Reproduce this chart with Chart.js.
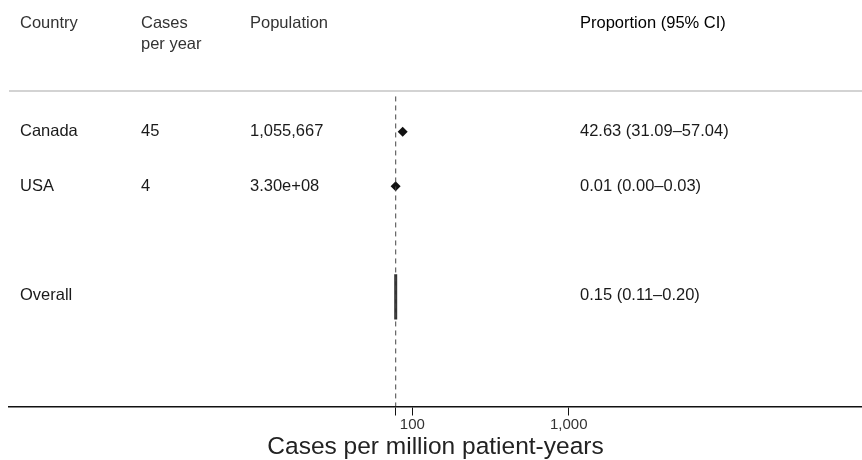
<!DOCTYPE html>
<html lang="en">
<head>
    <meta charset="UTF-8">
    <title>Forest plot</title>
    <script src="https://cdn.jsdelivr.net/npm/chart.js"></script>
    <style>
        html, body { margin: 0; padding: 0; background: #fff; overflow: hidden; }
        #wrap { width: 862px; height: 460px; }
        canvas { display: block; }
    </style>
</head>
<body>
    <div id="wrap"><canvas id="forest" width="862" height="460"></canvas></div>

    <script>
        // table columns
        const countries = ['Canada', 'USA'];
        const casesPerYear = ['45', '4'];
        const population = ['1,055,667', '3.30e+08'];
        const proportionText = ['42.63 (31.09–57.04)', '0.01 (0.00–0.03)'];
        const overallText = '0.15 (0.11–0.20)';

        // plotted values (x = cases per million patient-years, log axis)
        const studyRows = [1, 2];
        const studyEstimates = [86.8, 78.2];
        const overallRow = 4;
        const overallEstimate = 78.3;
        const overallSpan = [3.62, 4.45];
        const refValue = 78.3;

        const tickValues = [78.3, 100, 1000];
        const tickLabels = ['', '100', '1,000'];

        const FONT = '"Liberation Sans", Arial, Helvetica, sans-serif';

        const tablePlugin = {
            id: 'tableText',
            beforeDatasetsDraw(chart) {
                const { ctx, chartArea } = chart;
                ctx.save();
                ctx.strokeStyle = '#d3d3d3';
                ctx.lineWidth = 2;
                ctx.beginPath();
                ctx.moveTo(chartArea.left, chartArea.top);
                ctx.lineTo(chartArea.right, chartArea.top);
                ctx.stroke();
                ctx.restore();
            },
            afterDatasetsDraw(chart) {
                const { ctx } = chart;
                const y = chart.scales.y;
                const cols = [20, 141, 250, 580];
                ctx.save();
                ctx.font = '16.5px ' + FONT;
                ctx.textBaseline = 'middle';
                ctx.textAlign = 'left';
                ctx.fillStyle = '#333';
                ctx.fillText('Country', cols[0], y.getPixelForValue(-1));
                ctx.fillText('Cases', cols[1], y.getPixelForValue(-1));
                ctx.fillText('per year', cols[1], y.getPixelForValue(-0.6));
                ctx.fillText('Population', cols[2], y.getPixelForValue(-1));
                ctx.fillStyle = '#000';
                ctx.fillText('Proportion (95% CI)', cols[3], y.getPixelForValue(-1));

                ctx.fillStyle = '#1a1a1a';
                countries.forEach((c, i) => {
                    const py = y.getPixelForValue(studyRows[i]);
                    ctx.fillText(c, cols[0], py);
                    ctx.fillText(casesPerYear[i], cols[1], py);
                    ctx.fillText(population[i], cols[2], py);
                    ctx.fillText(proportionText[i], cols[3], py);
                });
                const oy = y.getPixelForValue(overallRow);
                ctx.fillText('Overall', cols[0], oy);
                ctx.fillText(overallText, cols[3], oy);
                ctx.restore();
            }
        };

        new Chart(document.getElementById('forest').getContext('2d'), {
            type: 'scatter',
            data: {
                datasets: [
                    {
                        label: 'reference',
                        data: [{ x: refValue, y: 0.35 }, { x: refValue, y: 6.05 }],
                        showLine: true,
                        borderColor: '#444',
                        borderWidth: 1,
                        borderDash: [5, 4],
                        pointRadius: 0
                    },
                    {
                        label: 'overall',
                        data: overallSpan.map(v => ({ x: overallEstimate, y: v })),
                        showLine: true,
                        borderColor: '#333',
                        borderWidth: 3,
                        pointRadius: 0
                    },
                    {
                        label: 'studies',
                        data: studyEstimates.map((v, i) => ({ x: v, y: studyRows[i] })),
                        pointStyle: 'rectRot',
                        pointRadius: 5,
                        backgroundColor: '#111',
                        borderColor: '#111',
                        borderWidth: 0
                    }
                ]
            },
            plugins: [tablePlugin],
            options: {
                responsive: false,
                animation: false,
                layout: { autoPadding: false, padding: { top: 91, left: 9, right: 0, bottom: 0 } },
                plugins: { legend: { display: false }, tooltip: { enabled: false } },
                scales: {
                    x: {
                        type: 'logarithmic',
                        min: 0.2637,
                        max: 75050,
                        afterBuildTicks: (scale) => {
                            scale.ticks = tickValues.map(v => ({ value: v }));
                        },
                        ticks: {
                            autoSkip: false,
                            maxRotation: 0,
                            padding: 2,
                            color: '#333',
                            font: { family: FONT, size: 15, lineHeight: 1 },
                            callback: (value, index) => tickLabels[index]
                        },
                        grid: {
                            drawOnChartArea: false,
                            drawTicks: true,
                            tickLength: 9,
                            tickColor: '#111',
                            tickWidth: 1
                        },
                        border: { color: '#111', width: 1.5 },
                        title: {
                            display: true,
                            text: 'Cases per million patient-years',
                            color: '#222',
                            font: { family: FONT, size: 24.5, lineHeight: 1 },
                            padding: { top: 0, bottom: 1 }
                        }
                    },
                    y: {
                        type: 'linear',
                        reverse: true,
                        min: 0.25,
                        max: 6.05,
                        display: false
                    }
                }
            }
        });
    </script>
</body>
</html>
